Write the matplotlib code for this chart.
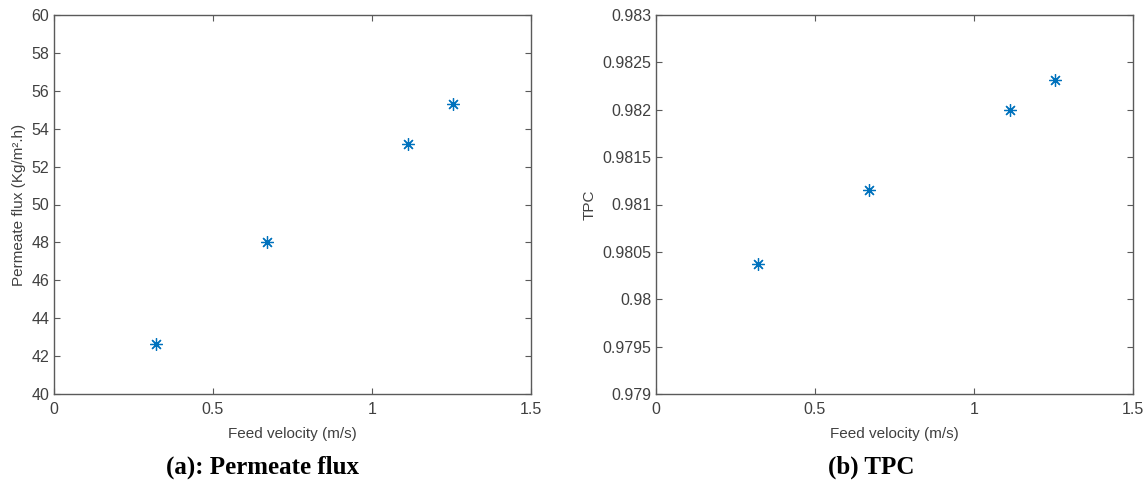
import matplotlib
matplotlib.use('Agg')
import matplotlib.pyplot as plt

# dados
velocidade = [0.32, 0.67, 1.113, 1.255]
fluxo = [42.65, 48.02, 53.2, 55.3]
tpc = [0.98037, 0.98115, 0.9820, 0.98231]

plt.rcParams['font.family'] = ['Liberation Sans', 'DejaVu Sans']

cor_eixo = '#5a5a5a'
cor_texto = '#404040'
cor_marcador = '#0072BD'
asterisco = (8, 2, 0)  # estilo asterisco do MATLAB

fig = plt.figure(figsize=(11.48, 4.88), dpi=100)
ax1 = fig.add_axes([54 / 1148, 94 / 488, 477 / 1148, 379 / 488])
ax2 = fig.add_axes([656 / 1148, 94 / 488, 477 / 1148, 379 / 488])

def estilo(ax):
    for s in ax.spines.values():
        s.set_color(cor_eixo)
        s.set_linewidth(1.0)
    ax.tick_params(direction='in', top=True, right=True, length=4,
                   color=cor_eixo, labelcolor=cor_texto, labelsize=11.5, width=0.8)
    ax.tick_params(axis='x', pad=6)
    ax.set_xlim(0, 1.5)
    ax.set_xticks([0, 0.5, 1, 1.5])
    ax.set_xticklabels(['0', '0.5', '1', '1.5'])
    ax.set_xlabel('Feed velocity (m/s)', fontsize=11, color=cor_texto, labelpad=7)

# (a) fluxo de permeado
ax1.plot(velocidade, fluxo, linestyle='none', marker=asterisco, markersize=9,
         color=cor_marcador, markeredgewidth=0.9)
estilo(ax1)
ax1.set_ylim(40, 60)
ax1.set_yticks(range(40, 61, 2))
ax1.set_ylabel('Permeate flux (Kg/m².h)', fontsize=11, color=cor_texto, labelpad=4)

# (b) TPC
ax2.plot(velocidade, tpc, linestyle='none', marker=asterisco, markersize=9,
         color=cor_marcador, markeredgewidth=0.9)
estilo(ax2)
ax2.set_ylim(0.979, 0.983)
ticks_tpc = [0.979, 0.9795, 0.98, 0.9805, 0.981, 0.9815, 0.982, 0.9825, 0.983]
ax2.set_yticks(ticks_tpc)
ax2.set_yticklabels(['0.979', '0.9795', '0.98', '0.9805', '0.981', '0.9815',
                     '0.982', '0.9825', '0.983'])
ax2.set_ylabel('TPC', fontsize=11, color=cor_texto, labelpad=4)

# legendas embaixo
fig.text(263 / 1148, 1 - 467 / 488, '(a): Permeate flux', ha='center', va='center',
         fontsize=18, fontweight='bold', family='Liberation Serif')
fig.text(871 / 1148, 1 - 467 / 488, '(b) TPC', ha='center', va='center',
         fontsize=18, fontweight='bold', family='Liberation Serif')

fig.savefig('out.png', dpi=100)
